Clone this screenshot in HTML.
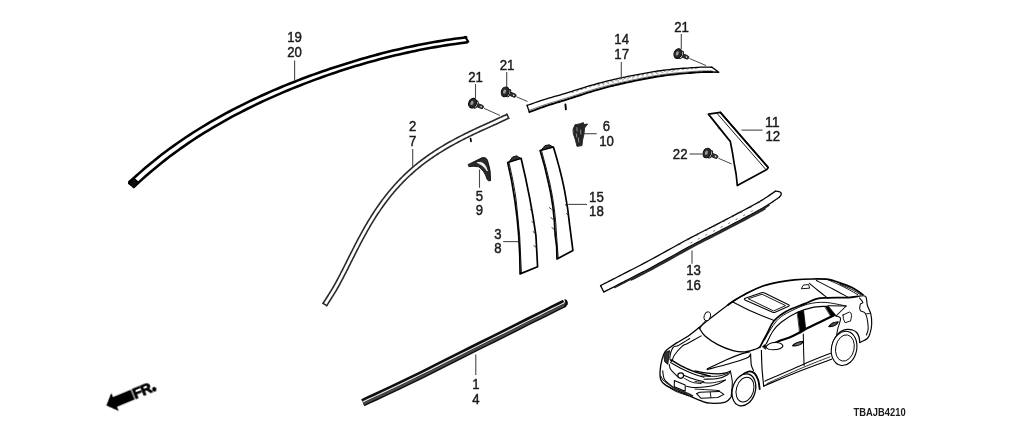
<!DOCTYPE html>
<html lang="en"><head><meta charset="utf-8"><title>Molding parts diagram</title>
<style>
html,body{margin:0;padding:0;background:#fff;}
body{width:1024px;height:427px;overflow:hidden;font-family:"Liberation Sans",sans-serif;}
svg{display:block;}
svg text{font-family:"Liberation Sans",sans-serif;fill:#1a1a1a;}
</style></head><body>
<svg width="1024" height="427" viewBox="0 0 1024 427">
<defs><filter id="soft" x="-2%" y="-2%" width="104%" height="104%"><feGaussianBlur stdDeviation="0.6"/></filter><filter id="softT" x="-20%" y="-20%" width="140%" height="140%"><feGaussianBlur stdDeviation="0.5"/></filter></defs>
<rect width="1024" height="427" fill="#fff"/>
<g filter="url(#soft)">
<path d="M129.29 182.09 L132.17 179.50 L136.32 175.77 L140.97 171.63 L145.39 167.80 L149.41 164.42 L153.42 161.15 L157.43 157.95 L161.45 154.82 L165.49 151.76 L169.53 148.77 L173.57 145.86 L177.60 143.02 L181.61 140.24 L185.61 137.52 L189.62 134.87 L193.63 132.27 L197.67 129.73 L201.71 127.24 L205.74 124.82 L209.76 122.44 L213.77 120.11 L217.77 117.82 L221.77 115.59 L225.78 113.39 L229.81 111.24 L233.84 109.14 L237.87 107.08 L241.89 105.06 L245.89 103.07 L249.89 101.13 L253.88 99.22 L257.89 97.34 L261.91 95.50 L265.94 93.69 L269.97 91.92 L273.98 90.18 L277.98 88.47 L281.97 86.79 L285.97 85.14 L289.97 83.51 L293.99 81.92 L298.02 80.36 L302.04 78.83 L306.05 77.32 L310.05 75.84 L314.03 74.38 L318.03 72.95 L322.03 71.54 L326.04 70.16 L330.07 68.81 L334.09 67.49 L338.10 66.19 L342.09 64.90 L346.08 63.64 L350.06 62.39 L354.06 61.18 L358.07 59.98 L362.09 58.81 L366.11 57.67 L370.11 56.55 L374.10 55.45 L378.09 54.38 L382.07 53.34 L386.07 52.31 L390.08 51.32 L394.10 50.35 L398.12 49.40 L402.13 48.48 L406.12 47.58 L410.11 46.71 L414.09 45.87 L418.09 45.05 L422.10 44.25 L426.13 43.49 L430.15 42.75 L434.16 42.03 L438.15 41.35 L442.14 40.69 L446.12 40.05 L450.13 39.44 L454.52 38.83 L459.16 38.21 L463.29 37.68 L466.17 37.31" fill="none" stroke="#000" stroke-width="2.6" stroke-linecap="round" stroke-linejoin="round" />
<path d="M133.71 186.99 L136.58 184.38 L140.69 180.64 L145.29 176.51 L149.61 172.72 L153.55 169.39 L157.48 166.14 L161.41 162.97 L165.35 159.86 L169.30 156.83 L173.27 153.87 L177.24 150.98 L181.20 148.14 L185.15 145.37 L189.09 142.67 L193.02 140.03 L196.97 137.45 L200.92 134.92 L204.89 132.45 L208.87 130.02 L212.84 127.64 L216.79 125.31 L220.73 123.03 L224.67 120.80 L228.62 118.61 L232.58 116.46 L236.56 114.36 L240.54 112.29 L244.51 110.26 L248.47 108.27 L252.41 106.32 L256.36 104.40 L260.31 102.52 L264.28 100.67 L268.26 98.86 L272.24 97.07 L276.22 95.32 L280.18 93.60 L284.13 91.90 L288.07 90.24 L292.03 88.61 L296.00 87.00 L299.98 85.43 L303.97 83.88 L307.95 82.36 L311.91 80.86 L315.87 79.38 L319.82 77.94 L323.77 76.52 L327.75 75.12 L331.73 73.76 L335.72 72.41 L339.70 71.09 L343.67 69.80 L347.62 68.55 L351.58 67.31 L355.54 66.10 L359.52 64.92 L363.51 63.76 L367.50 62.62 L371.49 61.51 L375.45 60.42 L379.41 59.36 L383.37 58.32 L387.33 57.31 L391.31 56.32 L395.30 55.35 L399.29 54.41 L403.27 53.50 L407.24 52.61 L411.19 51.75 L415.15 50.91 L419.11 50.09 L423.09 49.31 L427.07 48.55 L431.06 47.81 L435.04 47.11 L439.01 46.42 L442.96 45.77 L446.92 45.14 L450.87 44.54 L455.22 43.93 L459.83 43.32 L463.95 42.79 L466.83 42.41" fill="none" stroke="#000" stroke-width="2.6" stroke-linecap="round" stroke-linejoin="round" />
<path d="M128.60 183.50 L133.50 187.30 L138.50 182.60 L134.00 178.50 Z" fill="#111" stroke="#000" stroke-width="1.4" stroke-linecap="round" stroke-linejoin="round" />
<path d="M465.00 36.80 L468.30 41.60" fill="none" stroke="#000" stroke-width="2.0" stroke-linecap="round" stroke-linejoin="round" />
<line x1="294.6" y1="60.5" x2="294.6" y2="81" stroke="#484848" stroke-width="1.1"/>
<text x="294.5" y="42.0" font-size="14.3" text-anchor="middle" filter="url(#softT)" stroke="#1c1c1c" stroke-width="0.45" textLength="14.7" lengthAdjust="spacingAndGlyphs">19</text>
<text x="294.5" y="56.5" font-size="14.3" text-anchor="middle" filter="url(#softT)" stroke="#1c1c1c" stroke-width="0.45" textLength="14.7" lengthAdjust="spacingAndGlyphs">20</text>
<path d="M323.08 303.36 L323.59 302.54 L324.24 301.52 L325.00 300.32 L325.86 298.98 L326.78 297.52 L327.76 295.98 L328.76 294.39 L329.77 292.77 L330.77 291.17 L331.72 289.60 L332.62 288.11 L333.44 286.72 L334.20 285.40 L334.94 284.08 L335.66 282.78 L336.36 281.49 L337.06 280.21 L337.74 278.92 L338.41 277.64 L339.08 276.35 L339.75 275.06 L340.42 273.75 L341.10 272.44 L341.79 271.11 L342.48 269.78 L343.16 268.44 L343.84 267.10 L344.52 265.75 L345.20 264.39 L345.88 263.03 L346.55 261.66 L347.23 260.30 L347.92 258.93 L348.60 257.56 L349.29 256.19 L349.98 254.83 L350.67 253.47 L351.37 252.11 L352.06 250.74 L352.75 249.38 L353.44 248.01 L354.14 246.65 L354.84 245.28 L355.55 243.92 L356.25 242.55 L356.97 241.19 L357.68 239.84 L358.41 238.48 L359.13 237.14 L359.85 235.80 L360.58 234.45 L361.31 233.11 L362.05 231.77 L362.79 230.44 L363.53 229.10 L364.29 227.77 L365.04 226.45 L365.81 225.12 L366.58 223.81 L367.35 222.50 L368.14 221.20 L368.92 219.90 L369.71 218.60 L370.51 217.31 L371.31 216.03 L372.12 214.75 L372.94 213.47 L373.76 212.20 L374.59 210.93 L375.43 209.68 L376.28 208.42 L377.13 207.18 L377.99 205.94 L378.86 204.71 L379.73 203.48 L380.62 202.26 L381.51 201.05 L382.40 199.84 L383.31 198.64 L384.22 197.44 L385.14 196.26 L386.06 195.08 L386.99 193.90 L387.93 192.74 L388.88 191.59 L389.83 190.44 L390.79 189.31 L391.75 188.18 L392.72 187.05 L393.70 185.94 L394.69 184.83 L395.69 183.73 L396.69 182.64 L397.70 181.55 L398.73 180.47 L399.76 179.40 L400.80 178.34 L401.85 177.28 L402.91 176.23 L403.98 175.19 L405.06 174.16 L406.14 173.13 L407.23 172.11 L408.33 171.11 L409.44 170.11 L410.56 169.12 L411.68 168.14 L412.80 167.17 L413.94 166.21 L415.08 165.26 L416.22 164.32 L417.38 163.39 L418.54 162.47 L419.70 161.56 L420.88 160.65 L422.06 159.76 L423.24 158.87 L424.44 157.99 L425.64 157.12 L426.85 156.25 L428.07 155.38 L429.31 154.53 L430.55 153.68 L431.80 152.84 L433.05 152.00 L434.31 151.17 L435.58 150.35 L436.86 149.54 L438.13 148.73 L439.41 147.94 L440.70 147.15 L441.99 146.36 L443.28 145.58 L444.58 144.81 L445.88 144.05 L447.19 143.30 L448.50 142.55 L449.82 141.82 L451.14 141.08 L452.47 140.36 L453.79 139.64 L455.12 138.92 L456.46 138.21 L457.80 137.50 L459.14 136.79 L460.49 136.09 L461.85 135.40 L463.21 134.71 L464.58 134.02 L465.95 133.34 L467.32 132.67 L468.69 132.00 L470.06 131.33 L471.43 130.67 L472.81 130.01 L474.18 129.36 L475.56 128.71 L476.94 128.06 L478.32 127.43 L479.71 126.80 L481.09 126.17 L482.48 125.55 L483.86 124.93 L485.24 124.32 L486.61 123.70 L487.98 123.08 L489.35 122.47 L490.70 121.85 L492.11 121.20 L493.60 120.51 L495.15 119.80 L496.72 119.07 L498.29 118.34 L499.83 117.63 L501.31 116.94 L502.71 116.29 L503.99 115.70 L505.14 115.17 L506.11 114.71 L506.90 114.35" fill="none" stroke="#2a2a2a" stroke-width="1.6" stroke-linecap="round" stroke-linejoin="round" />
<path d="M326.72 305.64 L327.23 304.84 L327.87 303.82 L328.63 302.63 L329.48 301.29 L330.41 299.83 L331.39 298.28 L332.40 296.68 L333.42 295.05 L334.43 293.42 L335.40 291.83 L336.32 290.31 L337.16 288.88 L337.94 287.52 L338.70 286.18 L339.43 284.85 L340.15 283.54 L340.85 282.23 L341.54 280.93 L342.22 279.63 L342.90 278.33 L343.57 277.03 L344.24 275.73 L344.92 274.41 L345.61 273.09 L346.30 271.74 L346.99 270.39 L347.68 269.04 L348.36 267.67 L349.04 266.31 L349.72 264.95 L350.40 263.58 L351.08 262.21 L351.76 260.85 L352.45 259.49 L353.13 258.13 L353.82 256.77 L354.51 255.41 L355.20 254.05 L355.89 252.69 L356.58 251.33 L357.28 249.96 L357.97 248.60 L358.67 247.25 L359.37 245.89 L360.07 244.54 L360.77 243.19 L361.48 241.85 L362.19 240.52 L362.91 239.18 L363.64 237.84 L364.36 236.51 L365.09 235.18 L365.82 233.85 L366.55 232.53 L367.28 231.21 L368.03 229.89 L368.77 228.59 L369.52 227.29 L370.28 225.99 L371.05 224.70 L371.82 223.42 L372.60 222.13 L373.38 220.86 L374.16 219.58 L374.95 218.32 L375.75 217.05 L376.55 215.80 L377.36 214.55 L378.18 213.31 L379.00 212.07 L379.83 210.84 L380.67 209.62 L381.51 208.41 L382.37 207.20 L383.23 205.99 L384.09 204.79 L384.97 203.60 L385.85 202.41 L386.73 201.23 L387.63 200.06 L388.53 198.90 L389.43 197.74 L390.35 196.60 L391.27 195.46 L392.19 194.33 L393.13 193.20 L394.07 192.09 L395.01 190.98 L395.96 189.88 L396.92 188.79 L397.89 187.70 L398.86 186.63 L399.84 185.56 L400.83 184.50 L401.83 183.44 L402.84 182.40 L403.86 181.36 L404.89 180.33 L405.92 179.30 L406.97 178.28 L408.02 177.27 L409.08 176.27 L410.15 175.27 L411.23 174.29 L412.31 173.31 L413.40 172.34 L414.50 171.38 L415.60 170.43 L416.70 169.50 L417.82 168.57 L418.93 167.65 L420.06 166.75 L421.19 165.85 L422.34 164.96 L423.48 164.07 L424.64 163.20 L425.81 162.33 L426.98 161.46 L428.16 160.60 L429.35 159.75 L430.54 158.91 L431.75 158.07 L432.96 157.23 L434.19 156.41 L435.42 155.59 L436.66 154.78 L437.91 153.97 L439.16 153.17 L440.42 152.38 L441.68 151.59 L442.94 150.81 L444.21 150.04 L445.48 149.28 L446.76 148.52 L448.04 147.77 L449.33 147.03 L450.62 146.30 L451.92 145.57 L453.22 144.85 L454.53 144.13 L455.84 143.42 L457.16 142.71 L458.48 142.00 L459.80 141.30 L461.13 140.60 L462.46 139.91 L463.80 139.23 L465.15 138.55 L466.50 137.87 L467.85 137.20 L469.21 136.53 L470.57 135.86 L471.93 135.20 L473.30 134.55 L474.66 133.89 L476.02 133.24 L477.38 132.60 L478.74 131.97 L480.11 131.34 L481.48 130.71 L482.86 130.09 L484.24 129.47 L485.61 128.86 L486.99 128.24 L488.37 127.62 L489.75 127.00 L491.12 126.38 L492.50 125.75 L493.91 125.10 L495.41 124.42 L496.95 123.70 L498.53 122.97 L500.10 122.25 L501.64 121.53 L503.12 120.84 L504.52 120.19 L505.80 119.60 L506.95 119.07 L507.92 118.61 L508.70 118.25" fill="none" stroke="#2a2a2a" stroke-width="1.6" stroke-linecap="round" stroke-linejoin="round" />
<path d="M323.08 303.36 L326.72 305.64" fill="none" stroke="#2a2a2a" stroke-width="1.6" stroke-linecap="round" stroke-linejoin="round" />
<path d="M506.90 114.35 L508.70 118.25" fill="none" stroke="#2a2a2a" stroke-width="1.6" stroke-linecap="round" stroke-linejoin="round" />
<line x1="412.7" y1="149" x2="412.7" y2="167" stroke="#484848" stroke-width="1.1"/>
<text x="412.7" y="131.0" font-size="14.3" text-anchor="middle" filter="url(#softT)" stroke="#1c1c1c" stroke-width="0.45" textLength="7.3" lengthAdjust="spacingAndGlyphs">2</text>
<text x="412.7" y="145.5" font-size="14.3" text-anchor="middle" filter="url(#softT)" stroke="#1c1c1c" stroke-width="0.45" textLength="7.3" lengthAdjust="spacingAndGlyphs">7</text>
<path d="M470.6 138.6 L471 141.4" fill="none" stroke="#000" stroke-width="1.7" stroke-linecap="round" stroke-linejoin="round" />
<g transform="translate(472.6,103.2) rotate(22)"><rect x="2" y="-1.7" width="9.6" height="3.4" rx="1.6" fill="#333" stroke="#111" stroke-width="0.8"/><ellipse cx="3.6" cy="0" rx="1.7" ry="3.9" fill="#fff" stroke="#111" stroke-width="1"/><ellipse cx="0" cy="0" rx="3.8" ry="5" fill="#2b2b2b" stroke="#000" stroke-width="1"/><ellipse cx="-0.7" cy="0" rx="1.4" ry="2.2" fill="#999"/><circle cx="9.2" cy="0" r="0.8" fill="#ddd"/></g>
<line x1="484" y1="108.3" x2="500" y2="115.5" stroke="#484848" stroke-width="1"/>
<line x1="475.5" y1="84" x2="475.5" y2="98.5" stroke="#484848" stroke-width="1.1"/>
<text x="475.5" y="82" font-size="14.3" text-anchor="middle" filter="url(#softT)" stroke="#1c1c1c" stroke-width="0.45" textLength="14.7" lengthAdjust="spacingAndGlyphs">21</text>
<g transform="translate(505.2,91.8) rotate(22)"><rect x="2" y="-1.7" width="9.6" height="3.4" rx="1.6" fill="#333" stroke="#111" stroke-width="0.8"/><ellipse cx="3.6" cy="0" rx="1.7" ry="3.9" fill="#fff" stroke="#111" stroke-width="1"/><ellipse cx="0" cy="0" rx="3.8" ry="5" fill="#2b2b2b" stroke="#000" stroke-width="1"/><ellipse cx="-0.7" cy="0" rx="1.4" ry="2.2" fill="#999"/><circle cx="9.2" cy="0" r="0.8" fill="#ddd"/></g>
<line x1="516.5" y1="96.8" x2="527.5" y2="101.5" stroke="#484848" stroke-width="1"/>
<line x1="506.7" y1="72" x2="506.7" y2="87" stroke="#484848" stroke-width="1.1"/>
<text x="507" y="70" font-size="14.3" text-anchor="middle" filter="url(#softT)" stroke="#1c1c1c" stroke-width="0.45" textLength="14.7" lengthAdjust="spacingAndGlyphs">21</text>
<g transform="translate(677.9,53.6) rotate(22)"><rect x="2" y="-1.7" width="9.6" height="3.4" rx="1.6" fill="#333" stroke="#111" stroke-width="0.8"/><ellipse cx="3.6" cy="0" rx="1.7" ry="3.9" fill="#fff" stroke="#111" stroke-width="1"/><ellipse cx="0" cy="0" rx="3.8" ry="5" fill="#2b2b2b" stroke="#000" stroke-width="1"/><ellipse cx="-0.7" cy="0" rx="1.4" ry="2.2" fill="#999"/><circle cx="9.2" cy="0" r="0.8" fill="#ddd"/></g>
<line x1="689.5" y1="58.5" x2="706" y2="65.5" stroke="#484848" stroke-width="1"/>
<line x1="681.3" y1="34" x2="681.3" y2="49" stroke="#484848" stroke-width="1.1"/>
<text x="681.5" y="31.5" font-size="14.3" text-anchor="middle" filter="url(#softT)" stroke="#1c1c1c" stroke-width="0.45" textLength="14.7" lengthAdjust="spacingAndGlyphs">21</text>
<g transform="translate(707,153) rotate(22)"><rect x="2" y="-1.7" width="9.6" height="3.4" rx="1.6" fill="#333" stroke="#111" stroke-width="0.8"/><ellipse cx="3.6" cy="0" rx="1.7" ry="3.9" fill="#fff" stroke="#111" stroke-width="1"/><ellipse cx="0" cy="0" rx="3.8" ry="5" fill="#2b2b2b" stroke="#000" stroke-width="1"/><ellipse cx="-0.7" cy="0" rx="1.4" ry="2.2" fill="#999"/><circle cx="9.2" cy="0" r="0.8" fill="#ddd"/></g>
<line x1="718.5" y1="158.3" x2="731.7" y2="164" stroke="#484848" stroke-width="1"/>
<line x1="689.5" y1="154" x2="702" y2="154" stroke="#484848" stroke-width="1.1"/>
<text x="680.2" y="159" font-size="14.3" text-anchor="middle" filter="url(#softT)" stroke="#1c1c1c" stroke-width="0.45" textLength="14.7" lengthAdjust="spacingAndGlyphs">22</text>
<path d="M468.4 164.4 L482.3 157.6 Q486.4 157 487.6 160.6 Q491 170 490.6 180.6 Q488.4 181.6 487.2 179.6 Q484.6 170.6 478.6 166.8 Q474 165.8 469.2 166.6 Z" fill="#2a2a2a" stroke="#000" stroke-width="0.8" stroke-linecap="round" stroke-linejoin="round" />
<path d="M477.6 162.6 Q484.8 160.6 487.4 171 Q483.4 165 477.6 162.6 Z" fill="#fff" stroke="#fff" stroke-width="0.8" stroke-linecap="round" stroke-linejoin="round" />
<line x1="479.5" y1="169.5" x2="479.5" y2="187.8" stroke="#484848" stroke-width="1.1"/>
<text x="479.3" y="200.8" font-size="14.3" text-anchor="middle" filter="url(#softT)" stroke="#1c1c1c" stroke-width="0.45" textLength="7.3" lengthAdjust="spacingAndGlyphs">5</text>
<text x="479.3" y="215.3" font-size="14.3" text-anchor="middle" filter="url(#softT)" stroke="#1c1c1c" stroke-width="0.45" textLength="7.3" lengthAdjust="spacingAndGlyphs">9</text>
<path d="M507.7 162.5 L521.1 158.3 Q531 200 535.9 235.3 L537.6 266.8 L520.1 273.9 Q520 235 514.8 200.2 Q512 180 507.7 162.5 Z" fill="none" stroke="#000" stroke-width="1.7" stroke-linecap="round" stroke-linejoin="round" />
<path d="M509 162.4 Q514 184 516.2 200.2 Q520.6 235 521.4 272.6" fill="none" stroke="#000" stroke-width="0.9" stroke-linecap="round" stroke-linejoin="round" />
<path d="M509.2 161.6 L512.6 157 L516.6 155.8 L520.4 158.2 Z" fill="#333" stroke="#000" stroke-width="0.9" stroke-linecap="round" stroke-linejoin="round" />
<line x1="530.1" y1="209.4" x2="532.7" y2="211.4" stroke="#222" stroke-width="0.9"/>
<line x1="531.6" y1="221.4" x2="534.2" y2="223.4" stroke="#222" stroke-width="0.9"/>
<line x1="532.8000000000001" y1="231.4" x2="535.4000000000001" y2="233.4" stroke="#222" stroke-width="0.9"/>
<line x1="533.6" y1="245.4" x2="536.2" y2="247.4" stroke="#222" stroke-width="0.9"/>
<line x1="503.2" y1="241.6" x2="518" y2="241.6" stroke="#484848" stroke-width="1.1"/>
<text x="498" y="238.8" font-size="14.3" text-anchor="middle" filter="url(#softT)" stroke="#1c1c1c" stroke-width="0.45" textLength="7.3" lengthAdjust="spacingAndGlyphs">3</text>
<text x="498" y="253.3" font-size="14.3" text-anchor="middle" filter="url(#softT)" stroke="#1c1c1c" stroke-width="0.45" textLength="7.3" lengthAdjust="spacingAndGlyphs">8</text>
<path d="M540.1 150.5 L553.4 147 Q560.5 170 564.4 189.6 Q568 208 569.6 224.7 L572.9 250.4 L557 259 Q557.2 246 555.2 235.3 Q554 205 548.4 182.6 Q545 166 540.1 150.5 Z" fill="none" stroke="#000" stroke-width="1.7" stroke-linecap="round" stroke-linejoin="round" />
<path d="M541.5 150.6 Q546.4 168 549.8 183 Q555.4 208 556.6 236 L558.2 257.6" fill="none" stroke="#000" stroke-width="0.9" stroke-linecap="round" stroke-linejoin="round" />
<path d="M541.6 149.6 L545 145.6 L549.4 144.8 L552.8 146.8 Z" fill="#333" stroke="#000" stroke-width="0.9" stroke-linecap="round" stroke-linejoin="round" />
<line x1="549.1" y1="207.4" x2="551.7" y2="209.4" stroke="#222" stroke-width="0.9"/>
<line x1="550.6" y1="217.4" x2="553.2" y2="219.4" stroke="#222" stroke-width="0.9"/>
<line x1="551.6" y1="227.4" x2="554.2" y2="229.4" stroke="#222" stroke-width="0.9"/>
<line x1="565.0" y1="204.4" x2="567.6" y2="206.4" stroke="#222" stroke-width="0.9"/>
<line x1="566.2" y1="213.4" x2="568.8000000000001" y2="215.4" stroke="#222" stroke-width="0.9"/>
<line x1="568.2" y1="204.4" x2="587" y2="204.4" stroke="#484848" stroke-width="1.1"/>
<text x="596.4" y="201.7" font-size="14.3" text-anchor="middle" filter="url(#softT)" stroke="#1c1c1c" stroke-width="0.45" textLength="14.7" lengthAdjust="spacingAndGlyphs">15</text>
<text x="596.4" y="216.2" font-size="14.3" text-anchor="middle" filter="url(#softT)" stroke="#1c1c1c" stroke-width="0.45" textLength="14.7" lengthAdjust="spacingAndGlyphs">18</text>
<path d="M573.2 129 L575 124.8 L580 123.8 L583.4 122.6 L584 124.6 L587.6 124 L584.6 128 L584 134 L582.6 140 L582 145.6 L577 146.4 L575.4 140 L573.4 134 Z" fill="#262626" stroke="#222" stroke-width="0.9" stroke-linecap="round" stroke-linejoin="round" />
<path d="M576.8 127.6 L577.2 131 M578.4 138 L578.8 142 M580.6 130 L580.9 134 M576.4 134 L576.8 137" fill="none" stroke="#aaa" stroke-width="0.8" stroke-linecap="round" stroke-linejoin="round" />
<line x1="584" y1="133.7" x2="596.7" y2="133.7" stroke="#484848" stroke-width="1.1"/>
<text x="606.4" y="131.2" font-size="14.3" text-anchor="middle" filter="url(#softT)" stroke="#1c1c1c" stroke-width="0.45" textLength="7.3" lengthAdjust="spacingAndGlyphs">6</text>
<text x="606.6" y="145.6" font-size="14.3" text-anchor="middle" filter="url(#softT)" stroke="#1c1c1c" stroke-width="0.45" textLength="14.7" lengthAdjust="spacingAndGlyphs">10</text>
<path d="M527.04 105.40 L527.89 105.11 L528.95 104.75 L530.19 104.32 L531.59 103.84 L533.11 103.31 L534.73 102.75 L536.43 102.16 L538.16 101.57 L539.91 100.98 L541.64 100.40 L543.34 99.85 L544.97 99.33 L546.53 98.84 L548.03 98.39 L549.51 97.95 L550.97 97.53 L552.45 97.11 L553.95 96.68 L555.50 96.24 L557.11 95.78 L558.82 95.29 L560.63 94.77 L562.57 94.19 L564.67 93.57 L566.92 92.88 L569.35 92.13 L571.91 91.32 L574.60 90.46 L577.38 89.58 L580.24 88.67 L583.14 87.76 L586.07 86.85 L589.01 85.96 L591.92 85.10 L594.80 84.27 L597.60 83.50 L600.36 82.77 L603.11 82.07 L605.86 81.38 L608.60 80.71 L611.34 80.06 L614.09 79.43 L616.83 78.81 L619.57 78.21 L622.31 77.62 L625.05 77.04 L627.79 76.47 L630.53 75.92 L633.27 75.37 L636.01 74.83 L638.76 74.30 L641.50 73.79 L644.25 73.28 L647.00 72.79 L649.76 72.32 L652.51 71.86 L655.27 71.43 L658.03 71.01 L660.79 70.62 L663.55 70.25 L666.37 69.90 L669.27 69.58 L672.24 69.27 L675.23 68.98 L678.22 68.72 L681.17 68.47 L684.07 68.25 L686.87 68.04 L689.54 67.85 L692.06 67.68 L694.40 67.53 L696.54 67.40 L698.50 67.29 L700.33 67.21 L702.04 67.16 L703.61 67.13 L705.07 67.13 L706.40 67.14 L707.61 67.15 L708.71 67.18 L709.69 67.20 L710.56 67.23 L711.31 67.25 L711.98 67.26" fill="none" stroke="#000" stroke-width="1.3" stroke-linecap="round" stroke-linejoin="round" />
<path d="M529.36 112.00 L530.22 111.69 L531.28 111.29 L532.52 110.84 L533.91 110.33 L535.41 109.77 L537.02 109.19 L538.68 108.59 L540.39 107.98 L542.10 107.37 L543.80 106.77 L545.45 106.20 L547.03 105.67 L548.53 105.18 L549.99 104.71 L551.42 104.26 L552.85 103.81 L554.29 103.37 L555.78 102.92 L557.32 102.46 L558.93 101.97 L560.64 101.45 L562.47 100.89 L564.42 100.29 L566.53 99.63 L568.82 98.90 L571.26 98.11 L573.83 97.27 L576.52 96.39 L579.29 95.48 L582.12 94.55 L585.00 93.62 L587.90 92.70 L590.79 91.79 L593.65 90.91 L596.46 90.08 L599.20 89.30 L601.90 88.56 L604.60 87.83 L607.30 87.13 L610.01 86.44 L612.71 85.77 L615.41 85.12 L618.12 84.48 L620.83 83.86 L623.53 83.25 L626.24 82.65 L628.96 82.06 L631.67 81.48 L634.39 80.91 L637.11 80.35 L639.83 79.80 L642.55 79.26 L645.27 78.73 L647.98 78.22 L650.70 77.73 L653.41 77.25 L656.13 76.79 L658.84 76.35 L661.55 75.94 L664.25 75.55 L667.01 75.18 L669.86 74.84 L672.78 74.51 L675.73 74.20 L678.69 73.91 L681.61 73.64 L684.48 73.39 L687.26 73.15 L689.92 72.94 L692.43 72.74 L694.76 72.56 L696.86 72.40 L698.78 72.27 L700.55 72.17 L702.19 72.10 L703.71 72.04 L705.11 72.01 L706.40 71.99 L707.58 71.98 L708.65 71.98 L709.63 71.98 L710.52 71.97 L711.32 71.96 L712.02 71.94" fill="none" stroke="#000" stroke-width="1.9" stroke-linecap="round" stroke-linejoin="round" />
<path d="M527.04 105.40 L529.36 112.00" fill="none" stroke="#000" stroke-width="1.3" stroke-linecap="round" stroke-linejoin="round" />
<path d="M528.80 110.40 L530.16 109.91 L531.95 109.25 L534.09 108.48 L536.46 107.63 L538.99 106.72 L541.57 105.82 L544.12 104.94 L546.53 104.13 L548.78 103.40 L550.96 102.73 L553.12 102.07 L555.33 101.41 L557.67 100.71 L560.20 99.95 L562.98 99.11 L566.08 98.16 L569.56 97.06 L573.37 95.83 L577.43 94.50 L581.67 93.12 L586.00 91.74 L590.35 90.37 L594.65 89.08 L598.81 87.89 L602.88 86.79 L606.95 85.73 L611.02 84.72 L615.09 83.74 L619.16 82.79 L623.24 81.88 L627.31 80.99 L631.40 80.13 L635.48 79.29 L639.57 78.46 L643.66 77.67 L647.74 76.90 L651.83 76.17 L655.92 75.49 L660.00 74.85 L664.08 74.26 L668.28 73.73 L672.65 73.24 L677.09 72.79 L681.51 72.38 L685.79 72.02 L689.83 71.70 L693.53 71.42 L696.78 71.19 L699.62 71.01 L702.15 70.90 L704.41 70.84 L706.40 70.81 L708.14 70.81 L709.65 70.82 L710.93 70.82 L712.01 70.81" fill="none" stroke="#444" stroke-width="0.7" stroke-linecap="round" stroke-linejoin="round" />
<path d="M711.99 67.26 L718.8 72.2 L712.01 71.94" fill="none" stroke="#000" stroke-width="1.4" stroke-linecap="round" stroke-linejoin="round" />
<path d="M572.27 92.42 L576.34 91.12 L580.59 89.76 L584.95 88.39 L589.34 87.04 L593.68 85.76 L597.90 84.58 L602.02 83.49 L606.12 82.45 L610.23 81.45 L614.33 80.49 L618.43 79.56 L622.53 78.66 L626.64 77.80 L630.74 76.95 L634.85 76.13 L638.96 75.32 L643.07 74.55 L647.19 73.80 L651.31 73.09 L655.43 72.42 L659.55 71.80 L663.68 71.23 L667.93 70.72 L672.34 70.24 L676.82 69.82 L681.25 69.43 L685.55 69.09 L689.61 68.80 L693.32 68.54 L696.60 68.33 L699.48 68.17" fill="none" stroke="#444" stroke-width="0.7" stroke-linecap="round" stroke-linejoin="round" stroke-dasharray="1.5 3"/>
<path d="M598.26 85.90 L602.36 84.81 L606.46 83.76 L610.55 82.76 L614.64 81.79 L618.73 80.85 L622.81 79.95 L626.91 79.07 L631.00 78.22 L635.10 77.39 L639.20 76.58 L643.30 75.79 L647.41 75.04 L651.52 74.32 L655.62 73.65 L659.73 73.02 L663.84 72.45 L668.07 71.92 L672.46 71.44 L676.93 71.01" fill="none" stroke="#555" stroke-width="0.6" stroke-linecap="round" stroke-linejoin="round" stroke-dasharray="1 4"/>
<line x1="621.3" y1="62" x2="621.3" y2="79" stroke="#484848" stroke-width="1.1"/>
<text x="621.7" y="44.0" font-size="14.3" text-anchor="middle" filter="url(#softT)" stroke="#1c1c1c" stroke-width="0.45" textLength="14.7" lengthAdjust="spacingAndGlyphs">14</text>
<text x="621.7" y="58.5" font-size="14.3" text-anchor="middle" filter="url(#softT)" stroke="#1c1c1c" stroke-width="0.45" textLength="14.7" lengthAdjust="spacingAndGlyphs">17</text>
<path d="M565.4 104.5 L565.9 109.3" fill="none" stroke="#000" stroke-width="1.9" stroke-linecap="round" stroke-linejoin="round" />
<path d="M708.4 114.1 L720.4 112.4 L768.2 167.5 L766.8 169.6 L737.3 185.5 Q736.5 174 734.5 165.3 Q732.5 152 730.3 141.4 L728.8 139.6 Z" fill="none" stroke="#000" stroke-width="1.7" stroke-linecap="round" stroke-linejoin="round" />
<path d="M720.4 112.4 L768.2 167.5" fill="none" stroke="#000" stroke-width="1.6" stroke-linecap="round" stroke-linejoin="round" />
<path d="M717.4 113.8 L765.2 168.8" fill="none" stroke="#000" stroke-width="0.9" stroke-linecap="round" stroke-linejoin="round" />
<line x1="718" y1="127.5" x2="719.6" y2="129.5" stroke="#333" stroke-width="0.9"/>
<line x1="741.5" y1="130.1" x2="762.6" y2="130.1" stroke="#484848" stroke-width="1.1"/>
<text x="772.3" y="126.9" font-size="14.3" text-anchor="middle" filter="url(#softT)" stroke="#1c1c1c" stroke-width="0.45" textLength="14.7" lengthAdjust="spacingAndGlyphs">11</text>
<text x="772.8" y="141.4" font-size="14.3" text-anchor="middle" filter="url(#softT)" stroke="#1c1c1c" stroke-width="0.45" textLength="14.7" lengthAdjust="spacingAndGlyphs">12</text>
<path d="M600.56 285.60 L601.71 285.01 L603.14 284.28 L604.81 283.42 L606.69 282.46 L608.73 281.41 L610.90 280.30 L613.16 279.15 L615.46 277.97 L617.77 276.78 L620.05 275.61 L622.26 274.48 L624.35 273.40 L626.35 272.37 L628.28 271.38 L630.18 270.42 L632.05 269.47 L633.93 268.51 L635.84 267.53 L637.80 266.53 L639.83 265.48 L641.97 264.36 L644.22 263.18 L646.62 261.90 L649.19 260.53 L651.98 259.02 L654.99 257.38 L658.19 255.62 L661.53 253.77 L664.97 251.86 L668.47 249.92 L672.00 247.97 L675.50 246.03 L678.94 244.13 L682.28 242.29 L685.48 240.55 L688.50 238.93 L691.35 237.41 L694.09 235.97 L696.72 234.59 L699.28 233.27 L701.77 231.99 L704.21 230.74 L706.62 229.52 L709.01 228.30 L711.41 227.08 L713.81 225.85 L716.25 224.60 L718.74 223.31 L721.32 221.96 L723.99 220.57 L726.72 219.15 L729.49 217.71 L732.25 216.27 L734.99 214.84 L737.67 213.43 L740.26 212.07 L742.74 210.76 L745.08 209.53 L747.24 208.38 L749.20 207.33 L750.94 206.39 L752.50 205.54 L753.89 204.79 L755.14 204.10 L756.27 203.47 L757.30 202.89 L758.28 202.33 L759.21 201.79 L760.14 201.24 L761.08 200.68 L762.06 200.08 L763.11 199.44 L764.21 198.75 L765.35 198.02 L766.53 197.25 L767.72 196.46 L768.90 195.66 L770.05 194.88 L771.16 194.12 L772.21 193.40 L773.17 192.73 L774.03 192.14 L774.78 191.63 L775.38 191.22" fill="none" stroke="#000" stroke-width="1.3" stroke-linecap="round" stroke-linejoin="round" />
<path d="M603.84 292.00 L604.99 291.42 L606.42 290.69 L608.09 289.83 L609.97 288.87 L612.01 287.82 L614.18 286.71 L616.44 285.55 L618.75 284.37 L621.06 283.19 L623.34 282.02 L625.55 280.88 L627.65 279.80 L629.63 278.78 L631.56 277.80 L633.44 276.84 L635.32 275.88 L637.20 274.92 L639.12 273.94 L641.10 272.93 L643.15 271.87 L645.31 270.74 L647.58 269.55 L650.01 268.26 L652.61 266.87 L655.42 265.35 L658.45 263.69 L661.66 261.92 L665.01 260.07 L668.46 258.16 L671.97 256.22 L675.49 254.26 L678.98 252.33 L682.41 250.44 L685.74 248.61 L688.91 246.88 L691.90 245.27 L694.72 243.77 L697.43 242.35 L700.04 240.98 L702.58 239.67 L705.05 238.40 L707.49 237.16 L709.89 235.93 L712.28 234.72 L714.68 233.49 L717.10 232.26 L719.55 230.99 L722.06 229.69 L724.65 228.35 L727.32 226.96 L730.05 225.53 L732.82 224.09 L735.58 222.65 L738.33 221.21 L741.01 219.81 L743.61 218.44 L746.10 217.13 L748.45 215.89 L750.63 214.73 L752.60 213.67 L754.37 212.72 L755.94 211.87 L757.35 211.10 L758.62 210.40 L759.78 209.76 L760.86 209.15 L761.87 208.57 L762.85 208.00 L763.82 207.43 L764.80 206.84 L765.81 206.22 L766.89 205.56 L768.06 204.83 L769.27 204.06 L770.49 203.26 L771.72 202.44 L772.93 201.62 L774.11 200.82 L775.24 200.05 L776.29 199.33 L777.26 198.66 L778.11 198.07 L778.83 197.58 L779.42 197.18" fill="none" stroke="#000" stroke-width="1.3" stroke-linecap="round" stroke-linejoin="round" />
<path d="M600.56 285.60 L603.84 292.00" fill="none" stroke="#000" stroke-width="1.3" stroke-linecap="round" stroke-linejoin="round" />
<path d="M775.38 191.22 Q784.60 191.60 779.42 197.18" fill="none" stroke="#000" stroke-width="1.3" stroke-linecap="round" stroke-linejoin="round" />
<path d="M614.64 287.60 L618.05 285.86 L621.51 284.08 L624.91 282.33 L628.10 280.69 L631.06 279.18 L633.90 277.73 L636.71 276.29 L639.58 274.83 L642.57 273.29 L645.77 271.63 L649.25 269.80 L653.08 267.75 L657.39 265.41 L662.15 262.80 L667.21 260.00 L672.45 257.09 L677.72 254.17 L682.89 251.31 L687.82 248.61 L692.37 246.15 L696.55 243.94 L700.50 241.87 L704.28 239.92 L707.94 238.05 L711.54 236.21 L715.13 234.38 L718.78 232.52 L722.52 230.58 L726.43 228.54 L730.51 226.42 L734.66 224.26 L738.79 222.10 L742.79 220.00 L746.57 218.01 L750.03 216.18 L753.08 214.55 L755.65 213.16 L757.83 211.98 L759.70 210.95 L761.35 210.02 L762.87 209.15 L764.33 208.29 L765.82 207.39 L767.43 206.41 L769.20 205.29" fill="none" stroke="#222" stroke-width="1.3" stroke-linecap="round" stroke-linejoin="round" />
<path d="M631.24 279.53 L634.08 278.08 L636.89 276.65 L639.76 275.19 L642.76 273.65 L645.96 271.98 L649.43 270.15 L653.27 268.10 L657.58 265.76 L662.34 263.15 L667.41 260.35 L672.64 257.44 L677.92 254.52 L683.09 251.66 L688.01 248.96 L692.56 246.51 L696.74 244.29 L700.69 242.22 L704.46 240.28 L708.12 238.40 L711.72 236.57 L715.32 234.74 L718.96 232.87 L722.70 230.94 L726.62 228.90 L730.70 226.77 L734.85 224.61 L738.97 222.46 L742.98 220.36 L746.76 218.37 L750.22 216.53 L753.27 214.91 L755.84 213.52 L758.02 212.33 L759.89 211.30 L761.55 210.37 L763.07 209.49 L764.54 208.63" fill="none" stroke="#2a2a2a" stroke-width="2.4" stroke-linecap="round" stroke-linejoin="round" />
<path d="M679.04 244.30 L684.00 241.59 L688.59 239.10 L692.82 236.86 L696.82 234.77 L700.62 232.80 L704.30 230.92 L707.91 229.09 L711.50 227.26 L715.12 225.41 L718.83 223.48 L722.74 221.45 L726.82 219.33 L730.96 217.16 L735.08 215.01 L739.07 212.92 L742.83 210.94 L746.27 209.12 L749.29 207.50 L751.84 206.13 L753.99 204.96 L755.81 203.96 L757.40 203.06 L758.85 202.23 L760.24 201.41 L761.67 200.55 L763.21 199.61 L764.88 198.56" fill="none" stroke="#333" stroke-width="1.6" stroke-linecap="round" stroke-linejoin="round" stroke-dasharray="1 9"/>
<path d="M690.67 242.98 L694.87 240.75 L698.84 238.67 L702.64 236.72 L706.30 234.84 L709.91 233.01 L713.50 231.18 L717.13 229.32 L720.86 227.39 L724.77 225.35 L728.85 223.23 L733.00 221.06 L737.12 218.91 L741.12 216.82 L744.89 214.83 L748.34 213.00 L751.37 211.38 L753.94 210.00 L756.10 208.82 L757.95 207.80" fill="none" stroke="#555" stroke-width="0.8" stroke-linecap="round" stroke-linejoin="round" stroke-dasharray="1.5 7"/>
<line x1="692" y1="250.5" x2="692" y2="263.7" stroke="#484848" stroke-width="1.1"/>
<text x="693.5" y="275.0" font-size="14.3" text-anchor="middle" filter="url(#softT)" stroke="#1c1c1c" stroke-width="0.45" textLength="14.7" lengthAdjust="spacingAndGlyphs">13</text>
<text x="693.5" y="289.5" font-size="14.3" text-anchor="middle" filter="url(#softT)" stroke="#1c1c1c" stroke-width="0.45" textLength="14.7" lengthAdjust="spacingAndGlyphs">16</text>
<path d="M362.80 402.70 L367.88 400.32 L374.80 397.10 L383.04 393.25 L392.14 388.98 L401.59 384.49 L410.90 380.00 L420.31 375.38 L430.25 370.44 L440.54 365.29 L451.02 360.03 L461.50 354.76 L471.80 349.60 L482.30 344.35 L493.20 338.90 L504.11 333.44 L514.62 328.18 L524.32 323.33 L532.80 319.10 L540.17 315.43 L546.77 312.16 L552.56 309.29 L557.51 306.85 L561.57 304.85 L564.70 303.30" fill="none" stroke="#111" stroke-width="7.8" stroke-linecap="round" stroke-linejoin="round" style="stroke-linecap:butt"/>
<path d="M362.50 402.07 L367.59 399.69 L374.50 396.47 L382.75 392.62 L391.84 388.34 L401.28 383.86 L410.59 379.37 L420.00 374.75 L429.94 369.81 L440.23 364.66 L450.70 359.40 L461.18 354.14 L471.49 348.97 L481.98 343.73 L492.89 338.27 L503.80 332.81 L514.31 327.56 L524.00 322.71 L532.49 318.47 L539.86 314.81 L546.46 311.53 L552.25 308.67 L557.20 306.22 L561.26 304.22 L564.39 302.67" fill="none" stroke="#e0e0e0" stroke-width="1.3" stroke-linecap="round" stroke-linejoin="round" style="stroke-linecap:butt"/>
<path d="M363.39 403.97 L368.48 401.59 L375.39 398.37 L383.64 394.52 L392.73 390.24 L402.19 385.75 L411.51 381.26 L420.93 376.64 L430.87 371.69 L441.17 366.54 L451.65 361.28 L462.12 356.01 L472.43 350.85 L482.92 345.60 L493.83 340.15 L504.74 334.69 L515.24 329.43 L524.94 324.59 L533.42 320.35 L540.79 316.69 L547.39 313.41 L553.18 310.55 L558.13 308.11 L562.19 306.10 L565.32 304.56" fill="none" stroke="#484848" stroke-width="2.2" stroke-linecap="round" stroke-linejoin="round" style="stroke-linecap:butt"/>
<path d="M565 299.8 Q567.8 300.8 567 304.4 L564.6 306.2" fill="#222" stroke="#000" stroke-width="1.3" stroke-linecap="round" stroke-linejoin="round" />
<line x1="475.8" y1="354.5" x2="475.8" y2="374.9" stroke="#484848" stroke-width="1.1"/>
<text x="475.8" y="388.8" font-size="14.3" text-anchor="middle" filter="url(#softT)" stroke="#1c1c1c" stroke-width="0.45" textLength="7.3" lengthAdjust="spacingAndGlyphs">1</text>
<text x="475.8" y="403.6" font-size="14.3" text-anchor="middle" filter="url(#softT)" stroke="#1c1c1c" stroke-width="0.45" textLength="7.3" lengthAdjust="spacingAndGlyphs">4</text>
<g transform="translate(106.4,405.5) rotate(-22.5)"><path d="M0 0 L9.3 -9.8 L9.3 -5.3 L28.5 -5.3 L28.5 5.3 L9.3 5.3 L9.3 9.8 Z" fill="#000"/><text x="28.9" y="5.2" font-size="14.6" font-weight="bold" text-anchor="start" style="fill:#000" stroke="#000" stroke-width="0.9" textLength="23.6" lengthAdjust="spacingAndGlyphs">FR.</text><circle cx="50.5" cy="3.2" r="2.1" fill="#000"/></g>
<text x="879.6" y="416" font-size="10.4" text-anchor="middle" filter="url(#softT)" font-weight="bold" textLength="52" lengthAdjust="spacingAndGlyphs">TBAJB4210</text>
<g><path d="M699.00 327.60 C701.28 325.77 707.13 320.92 712.70 316.60 C718.27 312.28 726.63 305.62 732.40 301.70 C738.17 297.78 744.82 294.53 747.30 293.10" fill="none" stroke="#000" stroke-width="1.2075" stroke-linecap="round" stroke-linejoin="round" />
<path d="M728.00 305.00 C728.73 304.45 729.18 303.68 732.40 301.70 C735.62 299.72 742.22 295.72 747.30 293.10 C752.38 290.48 757.68 287.83 762.90 286.00 C768.12 284.17 773.37 283.12 778.60 282.10 C783.83 281.08 788.62 280.42 794.30 279.90 C799.98 279.38 807.02 279.08 812.70 279.00 C818.38 278.92 824.22 278.88 828.40 279.40 C832.58 279.92 833.87 280.73 837.80 282.10 C841.73 283.47 847.82 285.50 852.00 287.60 C856.18 289.70 861.08 293.52 862.90 294.70" fill="none" stroke="#000" stroke-width="1.7249999999999999" stroke-linecap="round" stroke-linejoin="round" />
<path d="M732.40 301.70 C735.67 303.33 745.08 308.37 752.00 311.50 C758.92 314.63 770.25 319.00 773.90 320.50" fill="none" stroke="#000" stroke-width="1.15" stroke-linecap="round" stroke-linejoin="round" />
<path d="M759.80 347.30 C760.98 345.07 764.55 338.28 766.90 333.90 C769.25 329.52 770.63 324.78 773.90 321.00 C777.17 317.22 781.32 314.10 786.50 311.20 C791.68 308.30 800.02 305.67 805.00 303.60 C809.98 301.53 812.60 299.77 816.40 298.80 C820.20 297.83 822.53 298.00 827.80 297.80 C833.07 297.60 843.02 297.83 848.00 297.60 C852.98 297.37 856.08 296.60 857.70 296.40" fill="none" stroke="#000" stroke-width="1.7249999999999999" stroke-linecap="round" stroke-linejoin="round" />
<path d="M764.50 340.00 C765.67 338.00 769.08 331.58 771.50 328.00 C773.92 324.42 775.92 321.25 779.00 318.50 C782.08 315.75 785.23 313.88 790.00 311.50 C794.77 309.12 801.75 305.72 807.60 304.20 C813.45 302.68 818.67 302.10 825.10 302.40 C831.53 302.70 842.68 305.40 846.20 306.00" fill="none" stroke="#000" stroke-width="0.9199999999999999" stroke-linecap="round" stroke-linejoin="round" />
<path d="M766.50 343.50 C767.58 341.42 770.50 334.58 773.00 331.00 C775.50 327.42 777.42 325.12 781.50 322.00 C785.58 318.88 792.42 314.70 797.50 312.30 C802.58 309.90 807.25 308.62 812.00 307.60 C816.75 306.58 823.67 306.43 826.00 306.20" fill="none" stroke="#000" stroke-width="1.15" stroke-linecap="round" stroke-linejoin="round" />
<path d="M699.00 327.60 C700.00 329.00 701.87 333.17 705.00 336.00 C708.13 338.83 713.13 342.17 717.80 344.60 C722.47 347.03 728.43 349.40 733.00 350.60 C737.57 351.80 741.38 352.07 745.20 351.80 C749.02 351.53 753.47 349.80 755.90 349.00 C758.33 348.20 759.15 347.33 759.80 347.00" fill="none" stroke="#000" stroke-width="1.265" stroke-linecap="round" stroke-linejoin="round" />
<path d="M699.00 327.60 C697.02 329.13 690.83 334.25 687.10 336.80 C683.37 339.35 679.17 341.32 676.60 342.90 C674.03 344.48 673.58 344.88 671.70 346.30 C669.82 347.72 666.90 349.25 665.30 351.40 C663.70 353.55 662.97 355.98 662.10 359.20 C661.23 362.42 660.32 367.28 660.10 370.70 C659.88 374.12 659.93 377.33 660.80 379.70 C661.67 382.07 663.10 383.27 665.30 384.90 C667.50 386.53 670.37 387.85 674.00 389.50 C677.63 391.15 682.57 392.90 687.10 394.80 C691.63 396.70 697.35 399.50 701.20 400.90 C705.05 402.30 706.17 403.00 710.20 403.20 C714.23 403.40 721.97 403.05 725.40 402.10 C728.83 401.15 729.90 398.27 730.80 397.50" fill="none" stroke="#000" stroke-width="1.3224999999999998" stroke-linecap="round" stroke-linejoin="round" />
<path d="M689.80 338.50 C687.90 339.67 681.20 343.98 678.40 345.50 C675.60 347.02 674.43 345.53 673.00 347.60 C671.57 349.67 670.02 355.55 669.80 357.90 C669.58 360.25 671.38 361.07 671.70 361.70" fill="none" stroke="#000" stroke-width="1.035" stroke-linecap="round" stroke-linejoin="round" />
<path d="M701.20 335.90 C699.00 337.12 691.20 341.47 688.00 343.20 C684.80 344.93 684.28 344.28 682.00 346.30 C679.72 348.32 675.88 353.02 674.30 355.30 C672.72 357.58 672.80 359.22 672.50 360.00" fill="none" stroke="#000" stroke-width="1.035" stroke-linecap="round" stroke-linejoin="round" />
<path d="M665.9 352.1 L669.6 350.6 L668.5 357.9 L667.9 364.3 L664.7 361.7 L664 356.6 Z" fill="#333" stroke="#000" stroke-width="0.8049999999999999" stroke-linecap="round" stroke-linejoin="round" />
<path d="M671.10 359.80 C672.70 360.77 676.95 363.67 680.70 365.60 C684.45 367.53 689.30 369.80 693.60 371.40 C697.90 373.00 703.77 374.43 706.50 375.20 C709.23 375.97 709.42 375.87 710.00 376.00" fill="none" stroke="#000" stroke-width="1.4949999999999999" stroke-linecap="round" stroke-linejoin="round" />
<path d="M670.40 362.40 C672.12 363.37 676.83 366.27 680.70 368.20 C684.57 370.13 689.72 372.50 693.60 374.00 C697.48 375.50 702.27 376.67 704.00 377.20" fill="none" stroke="#000" stroke-width="1.035" stroke-linecap="round" stroke-linejoin="round" />
<path d="M669.20 364.30 C669.33 364.92 669.58 366.93 670.00 368.00 C670.42 369.07 670.45 369.28 671.70 370.70 C672.95 372.12 676.53 375.53 677.50 376.50" fill="none" stroke="#000" stroke-width="1.035" stroke-linecap="round" stroke-linejoin="round" />
<path d="M683.60 375.20 C685.27 375.85 690.22 378.02 693.60 379.10 C696.98 380.18 702.18 381.27 703.90 381.70" fill="none" stroke="#000" stroke-width="1.035" stroke-linecap="round" stroke-linejoin="round" />
<path d="M684.60 378.50 C685.88 379.13 689.52 381.45 692.30 382.30 C695.08 383.15 699.80 383.38 701.30 383.60" fill="none" stroke="#000" stroke-width="0.9199999999999999" stroke-linecap="round" stroke-linejoin="round" />
<path d="M662.70 370.70 C662.92 372.00 663.13 376.35 664.00 378.50 C664.87 380.65 667.25 382.75 667.90 383.60" fill="none" stroke="#000" stroke-width="1.035" stroke-linecap="round" stroke-linejoin="round" />
<path d="M660.80 376.00 C661.17 376.67 662.13 378.93 663.00 380.00 C663.87 381.07 665.50 382.00 666.00 382.40" fill="none" stroke="#000" stroke-width="0.9199999999999999" stroke-linecap="round" stroke-linejoin="round" />
<path d="M666.60 382.30 C667.88 383.27 670.87 386.27 674.30 388.10 C677.73 389.93 684.18 392.02 687.20 393.30 C690.22 394.58 691.53 395.38 692.40 395.80" fill="none" stroke="#222" stroke-width="1.7249999999999999" stroke-linecap="round" stroke-linejoin="round" />
<path d="M667.90 386.20 C669.18 387.05 672.17 389.70 675.60 391.30 C679.03 392.90 686.35 395.05 688.50 395.80" fill="none" stroke="#000" stroke-width="0.9199999999999999" stroke-linecap="round" stroke-linejoin="round" />
<ellipse cx="680.7" cy="375.6" rx="2.9" ry="2.7" fill="#fff" stroke="#000" stroke-width="1.2"/>
<path d="M674.3 380.4 L685.2 384.9 L685.2 391.3 L674.3 386.8 Z" fill="#fff" stroke="#000" stroke-width="1.035" stroke-linecap="round" stroke-linejoin="round" />
<path d="M686.50 386.20 C687.68 386.42 690.27 387.40 693.60 387.50 C696.93 387.60 702.43 387.38 706.50 386.80 C710.57 386.22 714.85 385.13 718.00 384.00 C721.15 382.87 724.17 380.67 725.40 380.00" fill="none" stroke="#000" stroke-width="1.035" stroke-linecap="round" stroke-linejoin="round" />
<path d="M695.00 381.50 C697.53 381.75 705.13 383.25 710.20 383.00 C715.27 382.75 722.87 380.50 725.40 380.00" fill="none" stroke="#000" stroke-width="0.9199999999999999" stroke-linecap="round" stroke-linejoin="round" />
<path d="M695.00 370.90 C697.03 371.28 703.40 372.70 707.20 373.20 C711.00 373.70 714.67 373.97 717.80 373.90 C720.93 373.83 723.90 373.25 726.00 372.80 C728.10 372.35 729.67 371.47 730.40 371.20" fill="none" stroke="#000" stroke-width="1.265" stroke-linecap="round" stroke-linejoin="round" />
<path d="M704.10 379.20 C706.38 379.08 713.87 379.25 717.80 378.50 C721.73 377.75 725.60 375.92 727.70 374.70 C729.80 373.48 729.95 371.78 730.40 371.20" fill="none" stroke="#000" stroke-width="1.15" stroke-linecap="round" stroke-linejoin="round" />
<path d="M701.00 376.00 C703.80 376.03 713.30 376.67 717.80 376.20 C722.30 375.73 726.30 373.70 728.00 373.20" fill="none" stroke="#000" stroke-width="0.9199999999999999" stroke-linecap="round" stroke-linejoin="round" />
<path d="M730.40 371.20 C730.60 372.17 731.28 375.03 731.60 377.00 C731.92 378.97 732.32 379.97 732.30 383.00 C732.28 386.03 731.63 393.17 731.50 395.20" fill="none" stroke="#000" stroke-width="1.035" stroke-linecap="round" stroke-linejoin="round" />
<path d="M696.5 393.7 L699.6 392.2 L719.4 391.4 L723.9 394.4 L717.8 397.5 L701.1 398.3 Z" fill="none" stroke="#000" stroke-width="1.035" stroke-linecap="round" stroke-linejoin="round" />
<line x1="710.2" y1="392" x2="711" y2="397.9" stroke="#000" stroke-width="0.9"/>
<path d="M695.00 389.10 C697.53 389.23 706.13 389.63 710.20 389.90 C714.27 390.17 717.87 390.57 719.40 390.70" fill="none" stroke="#000" stroke-width="0.9199999999999999" stroke-linecap="round" stroke-linejoin="round" />
<path d="M707.20 369.00 C710.23 367.53 719.82 362.68 725.40 360.20 C730.98 357.72 736.63 355.50 740.70 354.10 C744.77 352.70 748.28 352.18 749.80 351.80" fill="none" stroke="#000" stroke-width="1.15" stroke-linecap="round" stroke-linejoin="round" />
<path d="M707.20 369.60 C710.23 368.80 719.82 366.37 725.40 364.80 C730.98 363.23 736.88 361.47 740.70 360.20 C744.52 358.93 746.65 358.22 748.30 357.20 C749.95 356.18 750.22 354.62 750.60 354.10" fill="none" stroke="#000" stroke-width="1.15" stroke-linecap="round" stroke-linejoin="round" />
<path d="M750.60 354.10 C750.72 355.88 750.80 362.00 751.30 364.80 C751.80 367.60 753.22 369.88 753.60 370.90" fill="none" stroke="#000" stroke-width="1.15" stroke-linecap="round" stroke-linejoin="round" />
<path d="M731.50 396.00 C731.67 395.00 731.98 391.90 732.50 390.00 C733.02 388.10 733.23 386.90 734.60 384.60 C735.97 382.30 738.42 378.37 740.70 376.20 C742.98 374.03 746.02 372.10 748.30 371.60 C750.58 371.10 752.75 371.80 754.40 373.20 C756.05 374.60 757.32 377.35 758.20 380.00 C759.08 382.65 759.45 387.58 759.70 389.10" fill="none" stroke="#000" stroke-width="1.8399999999999999" stroke-linecap="round" stroke-linejoin="round" />
<ellipse cx="743.9" cy="389.9" rx="11.4" ry="16.4" transform="rotate(17 743.9 389.9)" fill="#fff" stroke="#000" stroke-width="1.25"/>
<ellipse cx="745" cy="389.6" rx="8.6" ry="12.7" transform="rotate(17 745 389.6)" fill="none" stroke="#000" stroke-width="1.0"/>
<path d="M761.40 350.40 C761.50 353.33 761.62 361.98 762.00 368.00 C762.38 374.02 763.42 383.42 763.70 386.50" fill="none" stroke="#000" stroke-width="1.15" stroke-linecap="round" stroke-linejoin="round" />
<path d="M803.30 334.10 C803.35 336.75 803.47 344.77 803.60 350.00 C803.73 355.23 804.02 362.92 804.10 365.50" fill="none" stroke="#000" stroke-width="1.035" stroke-linecap="round" stroke-linejoin="round" />
<path d="M836.00 316.00 C836.75 316.42 840.17 316.50 840.50 318.50 C840.83 320.50 838.65 325.25 838.00 328.00 C837.35 330.75 837.13 332.17 836.60 335.00 C836.07 337.83 835.10 343.33 834.80 345.00" fill="none" stroke="#000" stroke-width="1.035" stroke-linecap="round" stroke-linejoin="round" />
<path d="M767.50 346.00 C769.28 345.23 774.45 342.87 778.20 341.40 C781.95 339.93 786.28 338.77 790.00 337.20 C793.72 335.63 797.87 333.37 800.50 332.00 C803.13 330.63 802.18 330.83 805.80 329.00 C809.42 327.17 817.67 323.20 822.20 321.00 C826.73 318.80 831.20 316.67 833.00 315.80" fill="none" stroke="#000" stroke-width="2.1849999999999996" stroke-linecap="round" stroke-linejoin="round" />
<path d="M764.90 381.20 C771.43 378.32 793.17 368.57 804.10 363.90 C815.03 359.23 826.10 354.98 830.50 353.20" fill="none" stroke="#000" stroke-width="1.035" stroke-linecap="round" stroke-linejoin="round" />
<path d="M764.10 385.90 C770.08 383.42 788.75 375.45 800.00 371.00 C811.25 366.55 826.33 361.17 831.60 359.20" fill="none" stroke="#000" stroke-width="1.15" stroke-linecap="round" stroke-linejoin="round" />
<path d="M767.00 383.50 C773.00 380.83 792.50 371.95 803.00 367.50 C813.50 363.05 825.50 358.58 830.00 356.80" fill="none" stroke="#000" stroke-width="0.8049999999999999" stroke-linecap="round" stroke-linejoin="round" />
<path d="M797.5 312.3 L803.6 310.6 L805.8 329 L800 333.2 Z" fill="#000" stroke="#000" stroke-width="0.69" stroke-linecap="round" stroke-linejoin="round" />
<path d="M825.1 306.6 L828.2 306 L836 315.4 L831.3 316.8 Z" fill="#000" stroke="#000" stroke-width="0.69" stroke-linecap="round" stroke-linejoin="round" />
<path d="M828 305.8 L846.2 306 L836 316" fill="none" stroke="#000" stroke-width="1.035" stroke-linecap="round" stroke-linejoin="round" />
<path d="M765.7 347 Q769 342.2 776 342.5 Q782.5 343 783 346 Q781.5 349.6 773 349.8 Q767.5 349.8 765.7 347 Z" fill="#fff" stroke="#000" stroke-width="1.035" stroke-linecap="round" stroke-linejoin="round" />
<path d="M762.5 346.5 L765.7 344 L765.7 349 Z" fill="#000" stroke="#000" stroke-width="0.69" stroke-linecap="round" stroke-linejoin="round" />
<path d="M792.4 345.8 Q796 341.5 803.3 341.4 Q801 346.5 792.4 345.8 Z" fill="#666" stroke="#000" stroke-width="1.035" stroke-linecap="round" stroke-linejoin="round" />
<path d="M828.7 326.6 Q832 322 838.3 321.8 Q836 327 828.7 326.6 Z" fill="#555" stroke="#000" stroke-width="1.035" stroke-linecap="round" stroke-linejoin="round" />
<path d="M843 315 L849.5 312 Q851.6 312.6 851.6 315.5 L850.6 321 L845 322.7 Q842.8 319 843 315 Z" fill="none" stroke="#000" stroke-width="0.9199999999999999" stroke-linecap="round" stroke-linejoin="round" />
<path d="M857.70 296.40 C859.02 296.40 864.00 294.95 865.60 296.40 C867.20 297.85 866.43 302.18 867.30 305.10 C868.17 308.02 870.07 310.67 870.80 313.90 C871.53 317.13 871.83 321.27 871.70 324.50 C871.57 327.73 870.73 330.97 870.00 333.30 C869.27 335.63 869.00 336.97 867.30 338.50 C865.60 340.03 861.05 341.83 859.80 342.50" fill="none" stroke="#000" stroke-width="1.15" stroke-linecap="round" stroke-linejoin="round" />
<path d="M859.50 298.00 C860.07 298.75 862.77 301.45 862.90 302.50 C863.03 303.55 860.73 302.98 860.30 304.30 C859.87 305.62 859.42 308.80 860.30 310.40 C861.18 312.00 864.28 310.97 865.60 313.90 C866.92 316.83 868.07 324.48 868.20 328.00 C868.33 331.52 866.70 333.83 866.40 335.00" fill="none" stroke="#000" stroke-width="1.035" stroke-linecap="round" stroke-linejoin="round" />
<path d="M865.60 313.90 C866.42 313.82 869.68 313.48 870.50 313.40" fill="none" stroke="#000" stroke-width="0.9199999999999999" stroke-linecap="round" stroke-linejoin="round" />
<path d="M831.60 349.00 C831.92 347.67 832.47 343.48 833.50 341.00 C834.53 338.52 836.38 335.82 837.80 334.10 C839.22 332.38 840.42 331.48 842.00 330.70 C843.58 329.92 845.55 329.52 847.30 329.40 C849.05 329.28 850.93 329.48 852.50 330.00 C854.07 330.52 855.62 331.33 856.70 332.50 C857.78 333.67 858.48 335.33 859.00 337.00 C859.52 338.67 859.67 341.58 859.80 342.50" fill="none" stroke="#000" stroke-width="1.265" stroke-linecap="round" stroke-linejoin="round" />
<ellipse cx="844.1" cy="348.4" rx="12.6" ry="17.3" transform="rotate(12 844.1 348.4)" fill="#fff" stroke="#000" stroke-width="1.1"/>
<ellipse cx="844.9" cy="348" rx="9.2" ry="13.3" transform="rotate(12 844.9 348)" fill="none" stroke="#000" stroke-width="0.9"/>
<path d="M745.2 298.2 L761.5 292.8 Q763.2 292.3 764.6 293 L788.5 304.8 Q790 305.6 788.6 306.3 L775.2 312.3 Q773.9 312.9 772.6 312.3 L745 300 Q743.6 299 745.2 298.2 Z" fill="none" stroke="#000" stroke-width="1.035" stroke-linecap="round" stroke-linejoin="round" />
<path d="M748.6 298.6 L762 294.2 L785.6 305.6 L774 310.8 Z" fill="none" stroke="#000" stroke-width="0.9199999999999999" stroke-linecap="round" stroke-linejoin="round" />
<path d="M801.5 288.4 L803.5 285 L808.5 284.6 L809.6 287.8 Z" fill="none" stroke="#000" stroke-width="0.9199999999999999" stroke-linecap="round" stroke-linejoin="round" />
<path d="M809.30 283.40 C810.75 284.58 814.92 288.05 818.00 290.50 C821.08 292.95 826.17 296.83 827.80 298.10" fill="none" stroke="#000" stroke-width="1.035" stroke-linecap="round" stroke-linejoin="round" />
<path d="M816.40 280.50 C819.00 281.83 826.73 285.72 832.00 288.50 C837.27 291.28 845.33 295.75 848.00 297.20" fill="none" stroke="#000" stroke-width="1.035" stroke-linecap="round" stroke-linejoin="round" />
<path d="M827.80 279.70 C830.33 280.83 838.02 284.02 843.00 286.50 C847.98 288.98 855.25 293.25 857.70 294.60" fill="none" stroke="#000" stroke-width="0.9199999999999999" stroke-linecap="round" stroke-linejoin="round" />
<path d="M840.00 284.20 C841.83 285.00 847.58 287.27 851.00 289.00 C854.42 290.73 858.92 293.67 860.50 294.60" fill="none" stroke="#000" stroke-width="0.9199999999999999" stroke-linecap="round" stroke-linejoin="round" />
<ellipse cx="707.3" cy="316.3" rx="3.1" ry="4.6" transform="rotate(15 707.3 316.3)" fill="#fff" stroke="#000" stroke-width="0.9"/>
<path d="M705.50 320.50 C704.92 321.25 702.88 323.68 702.00 325.00 C701.12 326.32 700.50 327.83 700.20 328.40" fill="none" stroke="#000" stroke-width="0.9199999999999999" stroke-linecap="round" stroke-linejoin="round" /></g>
</g>
</svg>
</body></html>
